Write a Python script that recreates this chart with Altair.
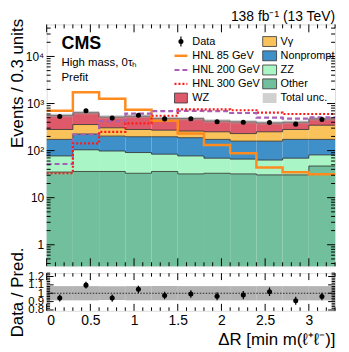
import altair as alt
import pandas as pd
import numpy as np

# ---------------- data ----------------
edges = [0.0, 0.3, 0.6, 0.9, 1.2, 1.5, 1.8, 2.1, 2.4, 2.7, 3.0, 3.3]
other = [35, 36, 36, 33, 36, 32, 33, 32, 30.5, 30.5, 47]
zz = [42, 68, 62, 58, 48, 45, 36, 34, 32.5, 38.5, 34]
nonprompt = [96, 121, 105, 106, 113, 111, 104, 93, 96, 104, 92]
vgamma = [108, 133, 102, 84, 75, 72, 78, 71, 92, 108, 173]
wz = [279, 282, 215, 259, 213, 220, 176, 179, 137, 120, 129]
data_obs = [528, 702, 490, 565, 472, 476, 412, 400, 395, 365, 456]
hnl85 = [705, 1740, 1260, 740, 430, 230, 131, 88, 44, 34.5, 31.6]
hnl200 = [52, 220, 420, 610, 690, 700, 690, 630, 500, 480, 510]
hnl300 = [33, 143, 251, 380, 550, 750, 750, 720, 640, 600, 600]
rel_unc = [0.085, 0.085, 0.082, 0.085, 0.085, 0.085, 0.085, 0.085, 0.085, 0.085, 0.085]

proc_names = ["Other", "ZZ", "Nonprompt", "Vγ", "WZ"]
proc_vals = [other, zz, nonprompt, vgamma, wz]
proc_cols = ["#72bf9d", "#a9f5c6", "#3f90c9", "#f9c25b", "#de5a6a"]

y_major = [1, 10, 100, 1000, 10000]
x_major = [0, 0.5, 1, 1.5, 2, 2.5, 3]
r_major = [0.8, 0.9, 1.0, 1.1, 1.2]

FONT = "Liberation Sans"
W, H, HR = 291, 244, 38
YMIN, YMAX = 0.35, 48000
RMIN, RMAX = 0.79, 1.24
TITLE_X = -24

xs = alt.Scale(domain=[0, 3.3], nice=False, zero=False)
ys = alt.Scale(type="log", domain=[YMIN, YMAX], nice=False)
rs = alt.Scale(domain=[RMIN, RMAX], nice=False, zero=False)

AX_Y_MAIN = alt.Axis(
    values=y_major, ticks=False, domain=False, grid=False,
    labelExpr="datum.value==1?'1':datum.value==10?'10':datum.value==100?'10²':datum.value==1000?'10³':'10⁴'",
    labelFont=FONT, labelFontSize=12, labelColor="black", labelPadding=3,
    title="Events / 0.3 units", titleFont=FONT, titleFontSize=17,
    titleFontWeight="normal", titleColor="black", titleAngle=270,
    titleAlign="right", titleBaseline="alphabetic", titleX=TITLE_X, titleY=-6)
AX_X_R = alt.Axis(
    values=x_major, ticks=False, domain=False, grid=False,
    labelExpr="datum.value==0?'0':format(datum.value,'.1~f')",
    labelFont=FONT, labelFontSize=14, labelColor="black", labelPadding=3,
    title="ΔR [min m(ℓ⁺ℓ⁻)]", titleFont=FONT, titleFontSize=17,
    titleFontWeight="normal", titleColor="black", titleAnchor="end",
    titlePadding=4)
AX_Y_R = alt.Axis(
    values=r_major, ticks=False, domain=False, grid=False, labelOverlap=False,
    labelExpr="datum.value==1?'1':format(datum.value,'.1f')",
    labelFont=FONT, labelFontSize=11.5, labelColor="black", labelPadding=3,
    title="Data / Pred.", titleFont=FONT, titleFontSize=17,
    titleFontWeight="normal", titleColor="black", titleAngle=270,
    titleAlign="center", titleBaseline="alphabetic", titleX=TITLE_X, titleY=HR / 2)

# ---------------- derived tables ----------------
x0 = edges[:-1]
x1 = edges[1:]
rows = []
cum = np.zeros(len(x0))
for name, vals in zip(proc_names, proc_vals):
    lo = cum.copy()
    cum = cum + np.array(vals, dtype=float)
    for i in range(len(x0)):
        rows.append(dict(proc=name, x0=x0[i], x1=x1[i],
                         lo=max(lo[i], YMIN), hi=cum[i]))
stack_df = pd.DataFrame(rows)
total = cum

step_rows = []
for name in proc_names:
    sub = stack_df[stack_df.proc == name]
    his = list(sub.hi)
    for xx, yy in zip(edges, his + [his[-1]]):
        step_rows.append(dict(proc=name, x=xx, y=yy))
step_df = pd.DataFrame(step_rows)

def step_table(vals):
    return pd.DataFrame(dict(x=edges, y=list(vals) + [vals[-1]]))

centers = [(a + b) / 2 for a, b in zip(x0, x1)]
obs = np.array(data_obs, dtype=float)
err = np.sqrt(obs)
unc = np.array(rel_unc)
bin_df = pd.DataFrame(dict(
    x0=x0, x1=x1, xc=centers, data=obs, dlo=obs - err, dhi=obs + err,
    tlo=total * (1 - unc), thi=total * (1 + unc),
    r=obs / total, rlo=(obs - err) / total, rhi=(obs + err) / total,
    blo=1 - unc, bhi=1 + unc))

def MX(f):
    return alt.X(f, scale=xs, axis=None)

def MY(f):
    return alt.Y(f, scale=ys, axis=AX_Y_MAIN)

def RX(f):
    return alt.X(f, scale=xs, axis=AX_X_R)

def RY(f):
    return alt.Y(f, scale=rs, axis=AX_Y_R)

# ---------------- main panel ----------------
stack = alt.Chart(stack_df).mark_rect().encode(
    x=MX("x0:Q"), x2="x1:Q", y=MY("lo:Q"), y2="hi:Q",
    color=alt.Color("proc:N", scale=alt.Scale(domain=proc_names, range=proc_cols), legend=None),
)

steps = alt.Chart(step_df).mark_line(interpolate="step-after", color="#2b2b2b",
                                     strokeWidth=0.8).encode(
    x=MX("x:Q"), y=MY("y:Q"), detail="proc:N")

band = alt.Chart(bin_df).mark_rect(color="#a0a0a0", opacity=0.5).encode(
    x=MX("x0:Q"), x2="x1:Q", y=MY("tlo:Q"), y2="thi:Q")

def hnl_line(vals, color, dash, width):
    kw = dict(interpolate="step-after", color=color, strokeWidth=width)
    if dash:
        kw["strokeDash"] = dash
    return alt.Chart(step_table(vals)).mark_line(**kw).encode(x=MX("x:Q"), y=MY("y:Q"))

l85 = hnl_line(hnl85, "#ff8a1e", None, 2.5)
l200 = hnl_line(hnl200, "#a95fb6", [5, 3], 2.2)
l300 = hnl_line(hnl300, "#ff1a1a", [2, 2], 2.2)

derr = alt.Chart(bin_df).mark_rule(color="black", strokeWidth=1.2).encode(
    x=MX("xc:Q"), y=MY("dlo:Q"), y2="dhi:Q")
dpts = alt.Chart(bin_df).mark_circle(color="black", opacity=1, size=26).encode(
    x=MX("xc:Q"), y=MY("data:Q"))

y_minor = [k * 10.0 ** d for d in range(-1, 5) for k in range(2, 10)
           if YMIN <= k * 10.0 ** d <= YMAX]
x_minor = [round(0.1 * i, 2) for i in range(0, 34) if round(0.1 * i, 2) not in x_major]

def xticks(vals, length, h, xenc):
    df = pd.DataFrame(dict(v=vals))
    b = alt.Chart(df).mark_rule(color="black", strokeWidth=1).encode(
        x=xenc("v:Q"), y=alt.value(h), y2=alt.value(h - length))
    t = alt.Chart(df).mark_rule(color="black", strokeWidth=1).encode(
        x=xenc("v:Q"), y=alt.value(0), y2=alt.value(length))
    return [b, t]

def yticks(vals, length, yenc):
    df = pd.DataFrame(dict(v=vals))
    l = alt.Chart(df).mark_rule(color="black", strokeWidth=1).encode(
        y=yenc("v:Q"), x=alt.value(0), x2=alt.value(length))
    r = alt.Chart(df).mark_rule(color="black", strokeWidth=1).encode(
        y=yenc("v:Q"), x=alt.value(W), x2=alt.value(W - length))
    return [l, r]

main_ticks = (xticks(x_major, 8, H, MX) + xticks(x_minor, 4, H, MX)
              + yticks(y_major, 8, MY) + yticks(y_minor, 4, MY))

def txt(df, **kw):
    base = dict(font=FONT, color="black")
    base.update(kw)
    return alt.Chart(df).mark_text(**base).encode(
        x=alt.X("px:Q", scale=None), y=alt.Y("py:Q", scale=None), text="t:N")

cms = txt(pd.DataFrame(dict(px=[15], py=[25], t=["CMS"])), fontSize=18,
          fontWeight="bold", align="left", baseline="alphabetic")
info = txt(pd.DataFrame(dict(px=[15, 15], py=[42, 57], t=["High mass, 0τₕ", "Prefit"])),
           fontSize=11.5, align="left", baseline="alphabetic")
lumi = txt(pd.DataFrame(dict(px=[W], py=[-3], t=["138 fb⁻¹ (13 TeV)"])),
           fontSize=14, align="right", baseline="alphabetic")

rows_y = [17.3, 31.7, 46, 60, 74.3]
leg_text = txt(pd.DataFrame(dict(
    px=[147] * 5 + [236] * 5, py=rows_y * 2,
    t=["Data", "HNL 85 GeV", "HNL 200 GeV", "HNL 300 GeV", "WZ",
       "Vγ", "Nonprompt", "ZZ", "Other", "Total unc."])),
    fontSize=11, align="left", baseline="middle")

box_df = pd.DataFrame(dict(
    bx=[129, 218, 218, 218, 218],
    bx2=[142, 232, 232, 232, 232],
    by=[rows_y[4] - 5, rows_y[0] - 5, rows_y[1] - 5, rows_y[2] - 5, rows_y[3] - 5],
    by2=[rows_y[4] + 5, rows_y[0] + 5, rows_y[1] + 5, rows_y[2] + 5, rows_y[3] + 5],
    col=["#de5a6a", "#f9c25b", "#3f90c9", "#a9f5c6", "#72bf9d"]))
leg_boxes = alt.Chart(box_df).mark_rect(stroke="#333333", strokeWidth=0.8).encode(
    x=alt.X("bx:Q", scale=None), x2="bx2:Q",
    y=alt.Y("by:Q", scale=None), y2="by2:Q",
    color=alt.Color("col:N", scale=None))
unc_box = alt.Chart(pd.DataFrame(dict(bx=[218], bx2=[232], by=[rows_y[4] - 5],
                                      by2=[rows_y[4] + 5]))).mark_rect(
    color="#c4c4c4", opacity=0.8).encode(
    x=alt.X("bx:Q", scale=None), x2="bx2:Q", y=alt.Y("by:Q", scale=None), y2="by2:Q")

def leg_line(yv, color, dash, width):
    kw = dict(color=color, strokeWidth=width)
    if dash:
        kw["strokeDash"] = dash
    return alt.Chart(pd.DataFrame(dict(a=[129], b=[142], c=[yv]))).mark_rule(**kw).encode(
        x=alt.X("a:Q", scale=None), x2="b:Q", y=alt.Y("c:Q", scale=None))

leg_l85 = leg_line(rows_y[1], "#ff8a1e", None, 2.5)
leg_l200 = leg_line(rows_y[2], "#a95fb6", [5, 3], 2.2)
leg_l300 = leg_line(rows_y[3], "#ff1a1a", [2, 2], 2.2)
leg_dot = alt.Chart(pd.DataFrame(dict(a=[135.5], c=[rows_y[0]]))).mark_circle(
    color="black", size=26, opacity=1).encode(
    x=alt.X("a:Q", scale=None), y=alt.Y("c:Q", scale=None))
leg_bar = alt.Chart(pd.DataFrame(dict(a=[135.5], c=[rows_y[0] - 5], d=[rows_y[0] + 5]))).mark_rule(
    color="black", strokeWidth=1.2).encode(
    x=alt.X("a:Q", scale=None), y=alt.Y("c:Q", scale=None), y2="d:Q")

main = alt.layer(
    stack, steps, band, l85, l200, l300, derr, dpts, *main_ticks,
    cms, info, lumi, leg_boxes, unc_box, leg_l85, leg_l200, leg_l300,
    leg_bar, leg_dot, leg_text,
).properties(width=W, height=H)

# ---------------- ratio panel ----------------
rband = alt.Chart(bin_df).mark_rect(color="#9a9a9a", opacity=0.75).encode(
    x=RX("x0:Q"), x2="x1:Q", y=RY("blo:Q"), y2="bhi:Q")

one = alt.Chart(pd.DataFrame(dict(v=[1.0]))).mark_rule(
    color="black", strokeWidth=0.8, strokeDash=[1.5, 1.5]).encode(y=RY("v:Q"))

rerr = alt.Chart(bin_df).mark_rule(color="black", strokeWidth=1.2).encode(
    x=RX("xc:Q"), y=RY("rlo:Q"), y2="rhi:Q")
rpts = alt.Chart(bin_df).mark_circle(color="black", size=26, opacity=1).encode(
    x=RX("xc:Q"), y=RY("r:Q"))

r_minor = [round(0.8 + 0.02 * i, 2) for i in range(0, 23)
           if round(0.8 + 0.02 * i, 2) not in r_major]

ratio_ticks = (xticks(x_major, 7, HR, RX) + xticks(x_minor, 3.5, HR, RX)
               + yticks(r_major, 7, RY) + yticks(r_minor, 3.5, RY))

ratio = alt.layer(rband, one, rerr, rpts, *ratio_ticks).properties(width=W, height=HR)

chart = alt.vconcat(main, ratio, spacing=7, bounds="flush").properties(
    padding={"top": 0, "left": 0, "right": 0, "bottom": 0}).configure_view(
    stroke="black", strokeWidth=1.2).configure(font=FONT, background="white")

chart.save("out.html", embed_options={"renderer": "svg", "actions": False})
